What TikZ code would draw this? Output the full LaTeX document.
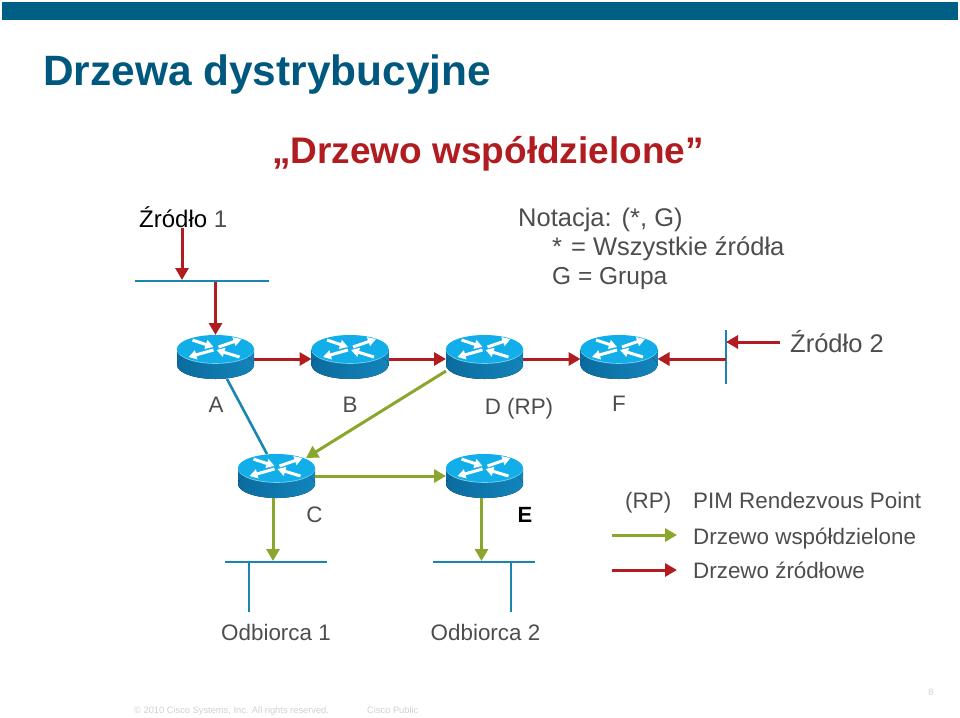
\documentclass[tikz,border=0pt]{standalone}
\usepackage{fontspec}
\setmainfont{Liberation Sans}
\usetikzlibrary{arrows.meta, positioning}

\definecolor{barblue}{HTML}{005F85}
\definecolor{titleblue}{HTML}{00587F}
\definecolor{lanblue}{HTML}{1A86B0}
\definecolor{treered}{HTML}{B01C20}
\definecolor{treegreen}{HTML}{8AA62C}
\definecolor{labelgray}{HTML}{4C4D4F}
\definecolor{footgray}{HTML}{D0D0D0}
\definecolor{routertop}{HTML}{12AEEA}
\definecolor{routerrim}{HTML}{7FD3F2}
\definecolor{routerleft}{HTML}{0B6B9E}
\definecolor{routerright}{HTML}{1384BA}

\newcommand{\routerarrow}[2]{%
  \draw[white, line width=3pt, -{Triangle[length=8pt,width=9pt]}] #1 -- #2;
}

\begin{document}
\begin{tikzpicture}[
  x=1pt, y=-1pt,
  every node/.style = {font=\fontsize{22.4}{26}\selectfont, text=labelgray, inner sep=0pt},
  router/.style = {
    rectangle,
    minimum width=77pt,
    minimum height=44pt,
    outer sep=0pt,
    path picture={
      \begin{scope}[shift={(path picture bounding box.center)}]
        \fill[left color=routerleft, right color=routerright] (-38.5,-8) rectangle (38.5,8);
        \fill[left color=routerleft, right color=routerright] (0,8) ellipse[x radius=38.5, y radius=14];
        \fill[routerrim] (0,-7.2) ellipse[x radius=38.5, y radius=14];
        \fill[routertop] (0,-8) ellipse[x radius=38.5, y radius=14];
        \routerarrow{(-23,-17)}{(-2,-10)}
        \routerarrow{(3,-10)}{(26,-18)}
        \routerarrow{(-2,-7)}{(-27,0)}
        \routerarrow{(24,0)}{(1,-7)}
      \end{scope}
    }
  },
  redarrow/.style = {-{Triangle[length=12pt,width=13pt]}, treered, line width=3pt},
  greenarrow/.style = {-{Triangle[length=12pt,width=13pt]}, treegreen, line width=3pt},
  lan/.style = {lanblue, line width=2.6pt},
  routername/.style = {anchor=base},
  legend/.style = {anchor=base west},
  notation/.style = {anchor=base west, font=\fontsize{25.5}{30}\selectfont},
  footer/.style = {text=footgray, font=\fontsize{9.3}{11}\selectfont}
]
\useasboundingbox (0,0) rectangle (960,717);

\fill[barblue] (2,2.5) rectangle (958,20.5);

\node[anchor=base west, font=\bfseries\fontsize{42.4}{46}\selectfont, text=titleblue] (title) at (43,85) {Drzewa dystrybucyjne};
\node[anchor=base, font=\bfseries\fontsize{37}{42}\selectfont, text=treered] (subtitle) at (488,163) {„Drzewo współdzielone”};

% routers
\node[router] (A) at (215.5,357) {};
\node[router, right=57.5pt of A] (B) {};
\node[router, right=57.5pt of B] (D) {};
\node[router, right=57.5pt of D] (F) {};
\node[router] (C) at (276.5,476) {};
\node[router, right=131pt of C] (E) {};

% labels
\node[notation, text=black, font=\fontsize{24}{28}\selectfont] (src1) at (139,227) {Źródło {\color{labelgray}1}};
\node[notation] (src2) at (790,352) {Źródło 2};
\node[notation] (notacja) at (518,226) {Notacja:\hspace{10pt}(*, G)};
\node[notation] (star) at (552,255) {*\hspace{9pt}= Wszystkie źródła};
\node[notation, font=\fontsize{24.5}{28}\selectfont] (group) at (552,284) {G = Grupa};

\node[routername] (labA) at (216,412) {A};
\node[routername] (labB) at (350,412) {B};
\node[routername] (labD) at (519,414) {D (RP)};
\node[routername] (labF) at (619,411) {F};
\node[routername] (labC) at (314.5,522) {C};
\node[routername, text=black, font=\bfseries\fontsize{22}{26}\selectfont] (labE) at (525,522) {E};
\node[routername] (rcv1) at (276,640) {Odbiorca 1};
\node[routername] (rcv2) at (485.5,640) {Odbiorca 2};

% LAN segments
\coordinate (lan1w) at (135,281);
\coordinate (lan1e) at (269,281);
\coordinate (lan1in) at (182,280);
\coordinate (lan1out) at (215.5,282);
\coordinate (srctop) at (182,228);
\coordinate (lan2n) at (726,330);
\coordinate (lan2s) at (726,384);
\coordinate (lan2out) at (726,359);
\coordinate (lan2in) at (726,342);
\coordinate (src2end) at (780,342);
\coordinate (lan3w) at (225,562);
\coordinate (lan3e) at (327,562);
\coordinate (lan3in) at (273,561);
\coordinate (lan3stub) at (249,562);
\coordinate (lan3foot) at (249,612);
\coordinate (lan4w) at (433,562);
\coordinate (lan4e) at (535,562);
\coordinate (lan4in) at (481.5,561);
\coordinate (lan4stub) at (511,562);
\coordinate (lan4foot) at (511,612);

\draw[lan] (lan1w) -- (lan1e);
\draw[lan] (lan2n) -- (lan2s);
\draw[lan] (lan3w) -- (lan3e);
\draw[lan] (lan3stub) -- (lan3foot);
\draw[lan] (lan4w) -- (lan4e);
\draw[lan] (lan4stub) -- (lan4foot);

% trees
\draw[redarrow] (srctop) -- (lan1in);
\draw[redarrow] (lan1out) -- (A.north);
\draw[redarrow] ([yshift=-2pt]A.east) -- ([yshift=-2pt]B.west);
\draw[redarrow] ([yshift=-2pt]B.east) -- ([yshift=-2pt]D.west);
\draw[redarrow] ([yshift=-2pt]D.east) -- ([yshift=-2pt]F.west);
\draw[redarrow] (lan2out) -- ([yshift=-2pt]F.east);
\draw[redarrow] (src2end) -- (lan2in);

\draw[lan] ([xshift=11.5pt]A.south) -- ([xshift=-9.5pt]C.north);
\draw[greenarrow] (D.200) -- ([xshift=-9pt,yshift=-4pt]C.north east);
\draw[greenarrow] (C.east) -- (E.west);
\draw[greenarrow] ([xshift=-3.5pt]C.south) -- (lan3in);
\draw[greenarrow] ([xshift=-3pt]E.south) -- (lan4in);

% legend
\node[legend] (rp) at (625,508) {(RP)};
\node[legend] (legrp) at (693,508) {PIM Rendezvous Point};
\node[legend] (legshared) at (693,544) {Drzewo współdzielone};
\node[legend] (legsource) at (693,578) {Drzewo źródłowe};
\coordinate (greenw) at (612,535);
\coordinate (greene) at (677,535);
\coordinate (redw) at (612,570);
\coordinate (rede) at (677,570);
\draw[greenarrow] (greenw) -- (greene);
\draw[redarrow] (redw) -- (rede);

% footer
\node[footer, anchor=base west] (copy) at (134,713) {© 2010 Cisco Systems, Inc. All rights reserved.};
\node[footer, anchor=base west] (public) at (367,713) {Cisco Public};
\node[footer, anchor=base] (page) at (931,695) {8};
\end{tikzpicture}
\end{document}
